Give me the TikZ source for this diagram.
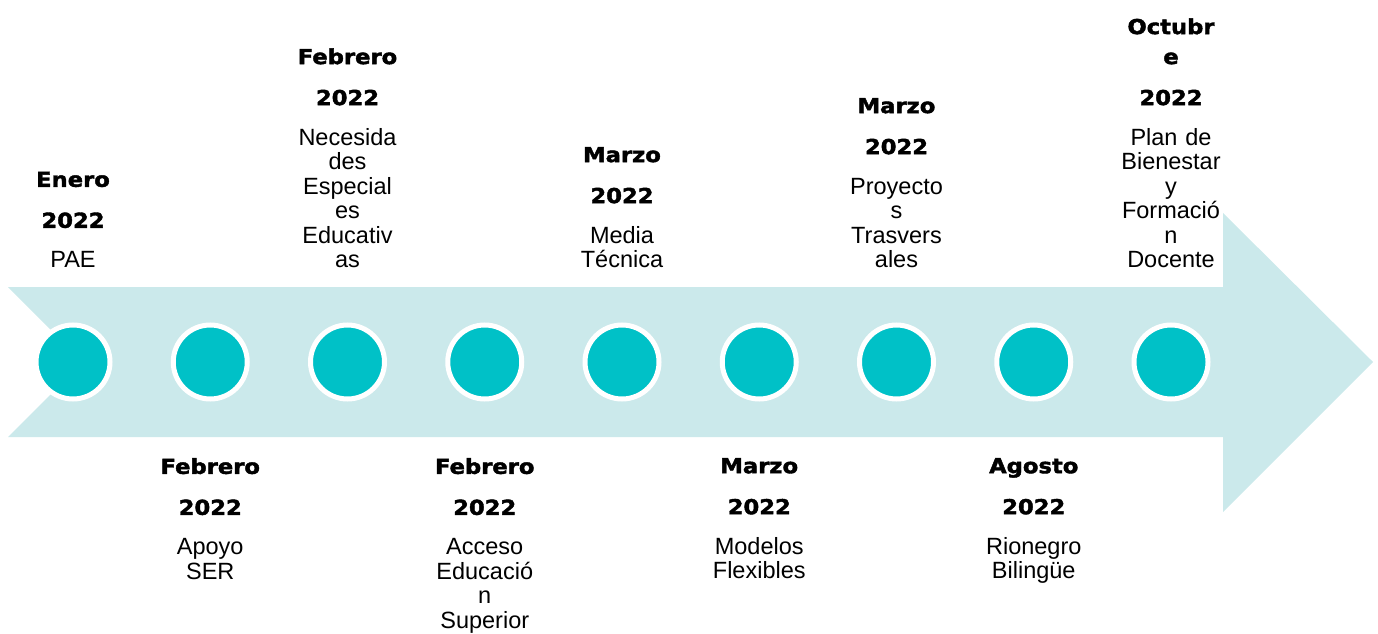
\documentclass[tikz,border=0pt]{standalone}
\usepackage{fontspec}
\setmainfont{Liberation Sans}
\newfontfamily\headfont[FakeStretch=1.1,FakeBold=2]{DejaVu Sans Bold}
\usetikzlibrary{positioning}
\definecolor{dotteal}{RGB}{0,193,199}
\definecolor{bandblue}{RGB}{203,233,235}
\newcommand{\hd}{\headfont\fontsize{20.6}{24.5}\selectfont}
\newcommand{\bodyfont}{\fontsize{23.5}{24.5}\selectfont\lineskiplimit=-100pt}

\begin{document}
\begin{tikzpicture}[x=1pt,y=1pt,
  dot/.style={circle,fill=dotteal,draw=white,line width=5pt,minimum size=74pt,inner sep=0pt},
  infotext/.style={text width=150pt,align=center,inner sep=0pt,font=\bodyfont},
  uptext/.style={infotext,anchor=south},
  downtext/.style={infotext,anchor=north}]
\useasboundingbox (0,0) rectangle (1378,633);

% band with arrow head
\fill[bandblue] (8,346) -- (83,271) -- (8,196) -- (1223,196) -- (1223,121)
  -- (1373,271) -- (1223,420) -- (1223,346) -- cycle;

\foreach \i in {1,...,9}
  \node[dot] (c\i) at ({73+137.25*(\i-1)},271) {};

\coordinate (uprow) at (0,365);
\coordinate (downrow) at (0,175);

% above the band
\node[uptext] (t1) at (c1 |- uprow) {{\hd Enero}\\[16.5pt]{\hd 2022}\\[15.5pt]PAE};
\node[uptext] (t3) at (c3 |- uprow) {{\hd Febrero}\\[16.5pt]{\hd 2022}\\[15.5pt]Necesida\\des\\Especial\\es\\Educativ\\as};
\node[uptext] (t5) at (c5 |- uprow) {{\hd Marzo}\\[16.5pt]{\hd 2022}\\[15.5pt]Media\\Técnica};
\node[uptext] (t7) at (c7 |- uprow) {{\hd Marzo}\\[16.5pt]{\hd 2022}\\[15.5pt]Proyecto\\s\\Trasvers\\ales};
\node[uptext] (t9) at (c9 |- uprow) {{\hd Octubr}\\[5.5pt]{\hd e}\\[16.5pt]{\hd 2022}\\[15.5pt]Plan de\\Bienestar\\y\\Formació\\n\\Docente};

% below the band
\node[downtext] (t2) at (c2 |- downrow) {{\hd Febrero}\\[16.5pt]{\hd 2022}\\[15.5pt]Apoyo\\SER};
\node[downtext] (t4) at (c4 |- downrow) {{\hd Febrero}\\[16.5pt]{\hd 2022}\\[15.5pt]Acceso\\Educació\\n\\Superior};
\node[downtext] (t6) at (c6 |- downrow) {{\hd Marzo}\\[16.5pt]{\hd 2022}\\[15.5pt]Modelos\\Flexibles};
\node[downtext] (t8) at (c8 |- downrow) {{\hd Agosto}\\[16.5pt]{\hd 2022}\\[15.5pt]Rionegro\\Bilingüe};

\end{tikzpicture}
\end{document}
